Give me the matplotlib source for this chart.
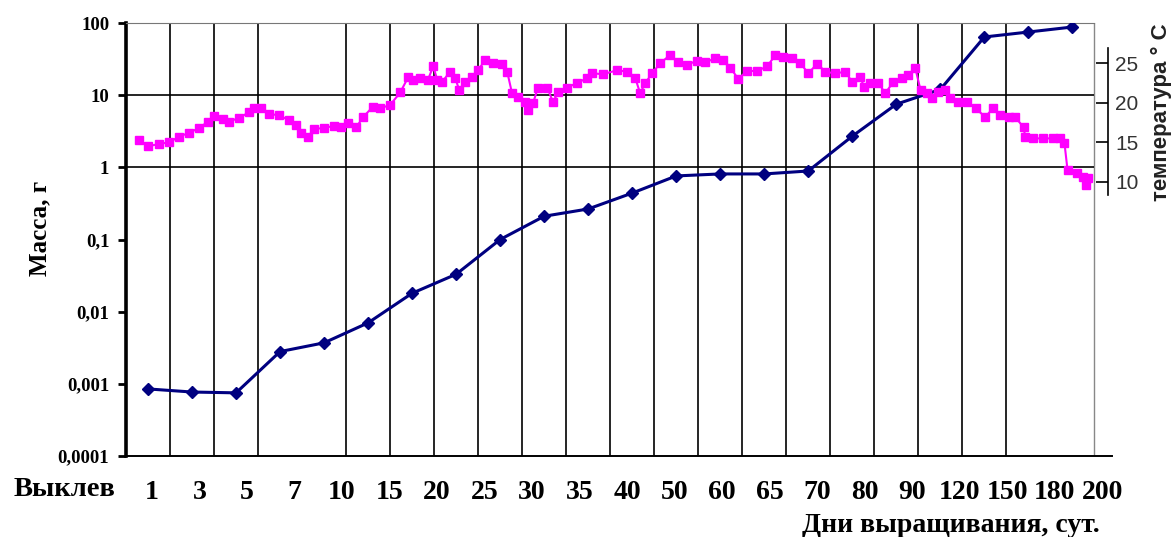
import numpy as np
import matplotlib.pyplot as plt
from matplotlib.ticker import NullLocator

# масса рыбы по точкам выращивания (лог. шкала)
mass = [0.00085, 0.00077, 0.00075, 0.0028, 0.0037, 0.0070, 0.018, 0.033,
        0.10, 0.21, 0.265, 0.44, 0.76, 0.81, 0.81, 0.89, 2.7, 7.5, 12,
        64, 75, 88]

day_labels = ["1", "3", "5", "7", "10", "15", "20", "25", "30", "35", "40",
              "50", "60", "65", "70", "80", "90", "120", "150", "180", "200"]

mass_ticks = [1e-4, 1e-3, 1e-2, 1e-1, 1, 10, 100]
mass_tick_labels = ["0,0001", "0,001", "0,01", "0,1", "1", "10", "100"]

# температура воды, положение по оси категорий
temp_x = [0.30, 0.50, 0.75, 0.98, 1.20, 1.43, 1.66, 1.86, 2.00, 2.20, 2.34,
          2.57, 2.80, 2.91, 3.07, 3.25, 3.48, 3.70, 3.86, 3.98, 4.14, 4.27,
          4.50, 4.73, 4.89, 5.05, 5.23, 5.39, 5.61, 5.77, 6.00, 6.23, 6.41,
          6.52, 6.68, 6.86, 6.98, 7.07, 7.18, 7.36, 7.48, 7.57, 7.70, 7.86,
          8.00, 8.16, 8.34, 8.55, 8.66, 8.77, 8.91, 9.07, 9.14, 9.25, 9.36,
          9.57, 9.70, 9.82, 10.02, 10.25, 10.48, 10.59, 10.84, 11.16, 11.39,
          11.57, 11.68, 11.80, 11.95, 12.14, 12.36, 12.55, 12.75, 12.98,
          13.16, 13.39, 13.57, 13.73, 13.91, 14.11, 14.34, 14.57, 14.75,
          14.93, 15.14, 15.32, 15.50, 15.70, 15.89, 16.11, 16.34, 16.50,
          16.68, 16.77, 16.91, 17.09, 17.25, 17.43, 17.64, 17.77, 17.93,
          18.05, 18.20, 18.32, 18.45, 18.61, 18.73, 18.91, 19.11, 19.30,
          19.52, 19.70, 19.86, 20.05, 20.20, 20.39, 20.43, 20.61, 20.84,
          21.07, 21.23, 21.32, 21.39, 21.61, 21.75, 21.80, 21.86]
temp = [15.3, 14.5, 14.8, 15.0, 15.7, 16.2, 16.8, 17.6, 18.3, 17.9, 17.6,
        18.1, 18.8, 19.3, 19.3, 18.6, 18.4, 17.8, 17.2, 16.2, 15.7, 16.7,
        16.8, 17.1, 16.9, 17.4, 16.9, 18.2, 19.5, 19.3, 19.7, 21.3, 23.2,
        22.9, 23.1, 22.9, 24.6, 22.9, 22.6, 23.9, 23.1, 21.6, 22.6, 23.2,
        24.1, 25.4, 25.0, 24.9, 23.9, 21.2, 20.7, 20.1, 19.1, 20.0, 21.9,
        21.9, 20.1, 21.3, 21.9, 22.5, 23.1, 23.7, 23.6, 24.1, 23.9,
        23.1, 21.2, 22.5, 23.7, 25.0, 26.0, 25.1, 24.8, 25.3,
        25.1, 25.6, 25.4, 24.4, 23.0, 24.0, 24.0, 24.6, 26.0,
        25.8, 25.6, 25.0, 23.7, 24.9, 23.9, 23.7, 23.9, 22.6,
        23.2, 22.0, 22.5, 22.5, 21.2, 22.6, 23.1, 23.5, 24.4,
        21.6, 21.2, 20.6, 21.3, 21.6, 20.6, 20.1, 20.1, 19.3,
        18.2, 19.3, 18.4, 18.2, 18.2, 16.9, 15.7, 15.5, 15.5,
        15.5, 15.5, 14.9, 11.5, 11.1, 10.6, 9.6, 10.5]
temp_ticks = [10, 15, 20, 25]

W, H = 1172, 537
serif = "Liberation Serif"
sans = "Liberation Sans"

fig = plt.figure(figsize=(W / 100, H / 100), dpi=100)

ax = fig.add_axes([126 / W, 81 / H, (1112 - 126) / W, 433 / H])
ax.set_yscale("log")
ax.set_ylim(1e-4, 100)
ax.set_xlim(0, 22.4)

# сетка: вертикальные линии между категориями (две в оригинале отсутствуют)
for k in range(1, 22):
    if k not in (4, 21):
        ax.axvline(k, color="black", lw=1.2, zorder=1)
ax.axvline(22, color="#888888", lw=1, zorder=1)
ax.hlines([1, 10], 0, 22, color="black", lw=1.2, zorder=1)

ax.plot(np.arange(len(mass)) + 0.5, mass, color="#000080", lw=2.2,
        marker="D", ms=6, zorder=3)

ax.spines["right"].set_visible(False)
ax.spines["top"].set_bounds(0, 22)
ax.spines["top"].set_color("#777777")
ax.spines["left"].set_linewidth(2.6)
ax.spines["bottom"].set_linewidth(1.4)

ax.set_yticks(mass_ticks)
ax.set_yticklabels(mass_tick_labels)
ax.yaxis.set_minor_locator(NullLocator())
ax.tick_params(axis="y", length=6, width=2, pad=6, labelsize=13.5)
for t in ax.get_yticklabels():
    t.set_fontfamily(serif)
    t.set_fontweight("bold")

ax.set_xticks(np.linspace(0.59, 22.18, len(day_labels)))
ax.set_xticklabels(day_labels)
ax.tick_params(axis="x", length=0, pad=17, labelsize=20)
for t in ax.get_xticklabels():
    t.set_fontfamily(serif)
    t.set_fontweight("bold")

# ось температуры
ax2 = fig.add_axes([126 / W, 342 / H, (1112 - 126) / W, 147 / H])
ax2.patch.set_visible(False)
ax2.set_xlim(0, 22.4)
ax2.set_ylim(8.36, 26.9)
for s in ["left", "top", "bottom"]:
    ax2.spines[s].set_visible(False)
ax2.spines["right"].set_position(("data", 22.32))
ax2.spines["right"].set_linewidth(1.2)
ax2.set_xticks([])
ax2.yaxis.tick_right()
ax2.set_yticks(temp_ticks)
ax2.tick_params(axis="y", direction="in", length=9, width=1.2, pad=5,
                labelsize=15, labelcolor="#333333")
for t in ax2.get_yticklabels():
    t.set_fontfamily(sans)
ax2.plot(temp_x, temp, color="#FF00FF", lw=1.5, marker="s", ms=6,
         clip_on=False, zorder=4)

fig.text(64 / W, 1 - 490 / H, "Выклев", ha="center", va="center",
         fontsize=20.5, fontweight="bold", family=serif)
fig.text(951 / W, 1 - 525 / H, "Дни выращивания, сут.", ha="center",
         va="center", fontsize=20, fontweight="bold", family=serif)
fig.text(40 / W, 1 - 228 / H, "Масса, г", ha="center", va="center",
         rotation=90, fontsize=18, fontweight="bold", family=serif)
fig.text(1161 / W, 1 - 112 / H, "температура ° С", ha="center", va="center",
         rotation=90, fontsize=16, fontweight="bold", family=sans,
         color="#222222")

fig.savefig("out.png", dpi=100)
